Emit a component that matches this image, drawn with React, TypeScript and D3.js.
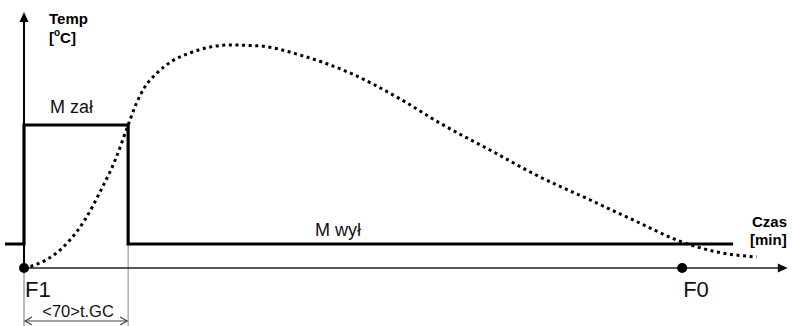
import React from "react";
import * as d3 from "d3";

// Temperature curve (time in arbitrary minutes, temperature in % of scale)
const curveTime = [0, 2.1, 4.1, 6.05, 8.0, 10, 12, 13.7, 14.7, 15.9, 17.5, 19.5, 21.8, 24.5, 27.1, 31.1, 36.3, 42.9, 49.5, 54.7, 61.3, 67.9, 74.5, 81, 85.9, 91.2, 96.4];
const curveTemp = [0, 2, 5.6, 11.2, 19.2, 30.4, 43.2, 57.2, 65.2, 72.4, 78, 82.8, 86, 88.4, 89.2, 88.8, 85.2, 78, 67.6, 58, 47.2, 36.4, 27.2, 18, 11.2, 6.4, 4.4];

// Switch state (M zał / M wył) step line
const stepTime = [-2.5, 0, 0, 13.7, 13.7, 93.3];
const stepLevel = [9.6, 9.6, 57.2, 57.2, 9.6, 9.6];

// Markers
const markerNames = ["F1", "F0"];
const markerTimes = [0, 86.6];

const stateLabels = ["M zał", "M wył"];
const dimLabel = "<70>t.GC";

export default function App() {
  const W = 792, H = 326;
  const x = d3.scaleLinear().domain([0, 100]).range([24, 784]);
  const y = d3.scaleLinear().domain([0, 100]).range([268, 18]);

  const curvePts: [number, number][] = curveTime.map((t, i) => [x(t), y(curveTemp[i])]);
  const curvePath = d3.line().curve(d3.curveMonotoneX)(curvePts) || "";
  const stepPts: [number, number][] = stepTime.map((t, i) => [x(t), y(stepLevel[i])]);
  const stepPath = d3.line()(stepPts) || "";

  const x0 = x(0);
  const xOff = x(13.7);
  const yAxisTop = y(102.4);
  const xAxisEnd = x(100.5);
  const yBase = y(0);
  const dimY = 321;
  const font = "'Liberation Sans', Arial, Helvetica, sans-serif";

  return (
    <svg width={W} height={H} style={{ position: "absolute", left: 0, top: 0, background: "#fff" }} fontFamily={font}>
      {/* extension lines */}
      <line x1={x0} x2={x0} y1={yBase} y2={H} stroke="#777" strokeWidth={1} />
      <line x1={xOff} x2={xOff} y1={y(9.6)} y2={H} stroke="#888" strokeWidth={1} />
      {/* dimension arrow */}
      <line x1={x0 + 1} x2={xOff - 1} y1={dimY} y2={dimY} stroke="#444" strokeWidth={1.2} />
      <path d={`M${x0 + 8},${dimY - 4} L${x0 + 1},${dimY} L${x0 + 8},${dimY + 4}`} fill="none" stroke="#444" strokeWidth={1.2} />
      <path d={`M${xOff - 8},${dimY - 4} L${xOff - 1},${dimY} L${xOff - 8},${dimY + 4}`} fill="none" stroke="#444" strokeWidth={1.2} />
      <text x={(x0 + xOff) / 2 + 2} y={317} fontSize={16.5} textAnchor="middle" fill="#111">{dimLabel}</text>

      {/* x axis */}
      <line x1={x0} x2={xAxisEnd - 6} y1={yBase} y2={yBase} stroke="#222" strokeWidth={1.6} />
      <path d={`M${xAxisEnd},${yBase} L${xAxisEnd - 10},${yBase - 4.5} L${xAxisEnd - 10},${yBase + 4.5} Z`} fill="#111" />
      {/* y axis */}
      <line x1={x0} x2={x0} y1={yBase} y2={yAxisTop + 6} stroke="#000" strokeWidth={2} />
      <path d={`M${x0},${yAxisTop} L${x0 - 4.5},${yAxisTop + 10} L${x0 + 4.5},${yAxisTop + 10} Z`} fill="#000" />

      {/* step line */}
      <path d={stepPath} fill="none" stroke="#000" strokeWidth={3.2} strokeLinejoin="miter" />
      {/* temperature curve */}
      <path d={curvePath} fill="none" stroke="#000" strokeWidth={3} strokeDasharray="3 3.6" />

      {/* markers */}
      {markerTimes.map((t, i) => (
        <g key={markerNames[i]}>
          <circle cx={x(t)} cy={yBase} r={5} fill="#000" />
          <text x={x(t) + 1} y={297} fontSize={22} fill="#111">{markerNames[i]}</text>
        </g>
      ))}

      {/* state labels */}
      <text x={50} y={113} fontSize={18} fill="#111">{stateLabels[0]}</text>
      <text x={315} y={236} fontSize={18} fill="#111">{stateLabels[1]}</text>

      {/* axis titles */}
      <text x={49} y={24} fontSize={15} fontWeight="bold" fill="#000">Temp</text>
      <text x={49} y={43} fontSize={15} fontWeight="bold" fill="#000">
        [<tspan fontSize={10} dy={-7}>o</tspan><tspan dy={7}>C]</tspan>
      </text>
      <text x={752} y={227} fontSize={15} fontWeight="bold" fill="#000">Czas</text>
      <text x={750} y={245} fontSize={15} fontWeight="bold" fill="#000">[min]</text>
    </svg>
  );
}
